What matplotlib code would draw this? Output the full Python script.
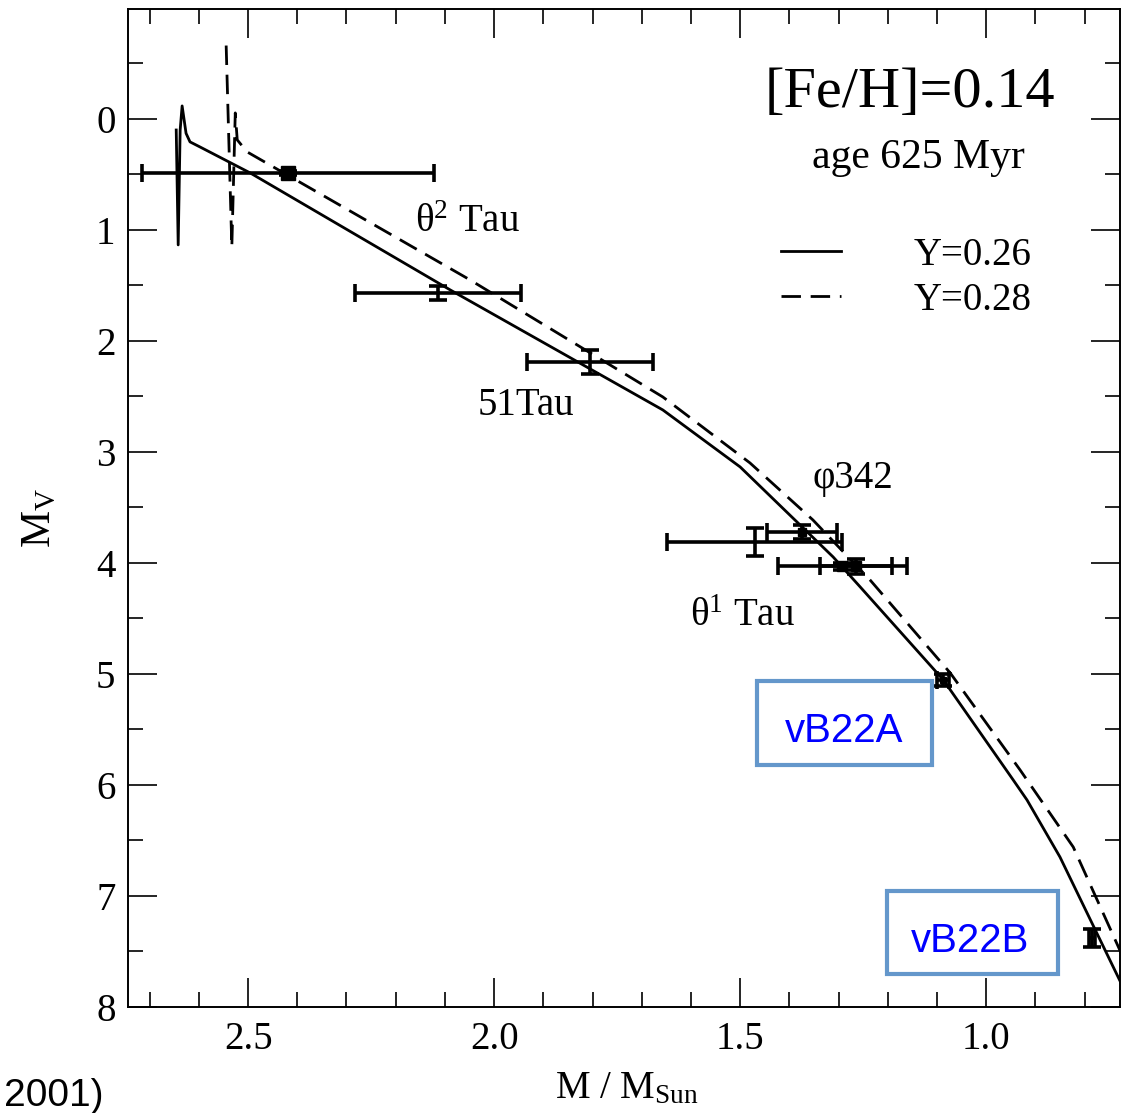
# Hyades mass-luminosity diagram with isochrones
import matplotlib
matplotlib.use('Agg')
import matplotlib.pyplot as plt
from matplotlib.patches import Rectangle
from matplotlib.ticker import MultipleLocator

plt.rcParams['font.family'] = ['Liberation Serif', 'DejaVu Serif']
plt.rcParams['mathtext.fontset'] = 'custom'
plt.rcParams['mathtext.rm'] = 'Liberation Serif'
plt.rcParams['mathtext.it'] = 'Liberation Serif:italic'

# isochrone Y=0.26 (solid)
iso1_m = [0.722, 0.850, 0.917, 0.945, 1.087, 1.256, 1.311, 1.500, 1.657, 2.089, 2.496,
          2.598, 2.618, 2.626, 2.634, 2.638, 2.642, 2.646]
iso1_mv = [7.82, 6.649, 6.135, 5.955, 5.054, 4.216, 3.946, 3.135, 2.622, 1.541, 0.486,
           0.252, 0.207, 0.13, -0.117, 0.10, 1.135, 0.10]

# isochrone Y=0.28 (dashed)
iso2_m = [0.722, 0.823, 0.931, 1.073, 1.236, 1.352, 1.480, 1.657, 2.049, 2.502,
          2.522, 2.526, 2.533, 2.545]
iso2_mv = [7.55, 6.559, 5.865, 4.991, 4.153, 3.613, 3.099, 2.505, 1.45, 0.297,
           0.189, -0.054, 1.153, -0.739]

# binary components with error bars
star_m = [2.419, 2.114, 1.805, 1.470, 1.374, 1.292, 1.264, 1.087, 0.785]
star_mv = [0.486, 1.568, 2.19, 3.81, 3.72, 4.03, 4.03, 5.054, 7.378]
star_merr = [0.297, 0.168, 0.128, 0.178, 0.071, 0.131, 0.073, 0.012, 0.006]
star_mverr = [0.02, 0.065, 0.108, 0.126, 0.063, 0.03, 0.07, 0.05, 0.08]
star_marker = ['s', None, None, None, 's', 's', 's', 's', None]
star_msize = [10, 0, 0, 0, 6, 7, 7, 5, 0]

W, H = 1124, 1113
fig = plt.figure(figsize=(W / 100, H / 100), dpi=100)
ax = fig.add_axes([128 / W, 1 - 1007 / H, 992 / W, 998 / H])

def px(x, y):
    return x / W, 1 - y / H

ax.plot(iso1_m, iso1_mv, color='black', lw=2.0, label='Y=0.26')
ax.plot(iso2_m, iso2_mv, color='black', lw=2.0, ls=(0, (7, 3.5)), label='Y=0.28')

for i in range(len(star_m)):
    ax.errorbar(star_m[i], star_mv[i], xerr=star_merr[i], yerr=star_mverr[i],
                fmt=star_marker[i] or 'none', ms=star_msize[i], color='black',
                ecolor='black', elinewidth=2.6, capsize=6.5, capthick=2.6, zorder=3)

ax.set_xlim(2.744, 0.728)
ax.set_ylim(8.0, -0.99)
ax.xaxis.set_major_locator(MultipleLocator(0.5))
ax.xaxis.set_minor_locator(MultipleLocator(0.1))
ax.yaxis.set_major_locator(MultipleLocator(1))
ax.yaxis.set_minor_locator(MultipleLocator(0.5))
ax.tick_params(which='both', direction='in', top=True, right=True, width=1.2,
               labelsize=28)
ax.tick_params(which='major', length=21)
ax.tick_params(which='minor', length=11)
ax.tick_params(axis='x', pad=10)
ax.tick_params(axis='y', pad=9)
ax.set_xticks([2.5, 2.0, 1.5, 1.0])
ax.set_xticklabels(['2.5', '2.0', '1.5', '1.0'])
for s in ax.spines.values():
    s.set_linewidth(1.4)

# star labels
ax.text(2.161, 1.018, 'θ$^{2}$ Tau', fontsize=28, ha='left', va='baseline')
ax.text(2.033, 2.667, '51Tau', fontsize=28, ha='left', va='baseline')
ax.text(1.352, 3.324, 'φ342', fontsize=28, ha='left', va='baseline')
ax.text(1.602, 4.568, 'θ$^{1}$ Tau', fontsize=28, ha='left', va='baseline')

# header texts
fig.text(*px(765, 107), '[Fe/H]=0.14', fontsize=42, ha='left', va='baseline')
fig.text(*px(812, 168), 'age 625 Myr', fontsize=30, ha='left', va='baseline')

ax.legend(loc='upper left', bbox_to_anchor=px(781, 237), bbox_transform=fig.transFigure,
          frameon=False, fontsize=28, handlelength=1.55, handletextpad=1.85,
          labelspacing=0.2, borderpad=0, borderaxespad=0)

# axis labels
fig.text(*px(40, 518), 'M$_{\\mathrm{V}}$', fontsize=30, rotation=90,
         ha='center', va='center')
fig.text(*px(555, 1098), 'M / M$_{\\mathrm{Sun}}$', fontsize=28, ha='left', va='baseline')
fig.text(*px(4, 1078), '2001)', fontsize=28, family='Liberation Sans', ha='left', va='top')

# blue label boxes
for x0, y0, x1, y1, tx, ty, name in [(757, 681, 932, 765, 844, 742, 'vB22A'),
                                       (887, 891, 1058, 974, 970, 952, 'vB22B')]:
    ax.add_patch(Rectangle(px(x0, y1), (x1 - x0) / W, (y1 - y0) / H,
                           transform=fig.transFigure, facecolor='white',
                           edgecolor='#6497CB', lw=3, clip_on=False, zorder=5))
    fig.text(*px(tx, ty), name, fontsize=29, family='Liberation Sans', color='#0000FF',
             ha='center', va='baseline', zorder=6)

plt.savefig('out.png', dpi=100)
